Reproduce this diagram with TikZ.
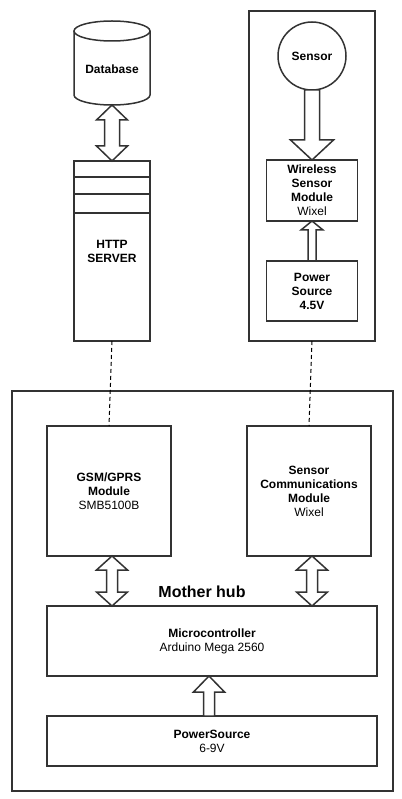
\documentclass[tikz,border=0pt]{standalone}
\usepackage{fontspec}
\setmainfont{Liberation Sans}
\usetikzlibrary{calc}
\definecolor{strokegray}{HTML}{333333}
\tikzset{
  box/.style={rectangle, draw=strokegray, line width=1.5pt, inner sep=0pt, outer sep=0pt, align=center, font=\fontsize{12}{14}\selectfont},
  blockarrow/.style={draw=strokegray, line width=1.5pt, fill=white, line join=miter},
  link/.style={draw=black, line width=1pt, dash pattern=on 4pt off 3pt}
}
\begin{document}
\begin{tikzpicture}[x=1pt,y=-1pt]
\useasboundingbox[fill=white] (0,0) rectangle (401,799);

%%%%%%%%%%%%%%%%%%%%%%%%%%%%%%%%%%%%%%%%%%% server side
\draw[strokegray, line width=1.5pt] (74,31) -- (74,95) arc[start angle=180, end angle=0, x radius=38, y radius=10] -- (150,31);
\draw[strokegray, line width=1.5pt] (112,31) ellipse[x radius=38, y radius=10];
\node[font=\bfseries\fontsize{12}{14}\selectfont] (db) at (112,69) {Database};
\coordinate (db-bottom) at (112,105);

\node[box, minimum width=76, minimum height=180] (http) at (112,251) {\textbf{HTTP}\\\textbf{SERVER}};
\foreach \yy in {16,33,52}
  \draw[strokegray, line width=1.5pt] ($(http.north west)+(0,\yy)$) -- ($(http.north east)+(0,\yy)$);

\draw[blockarrow] (db-bottom) -- ++(15.5,15) -- ++(-8,0) -- ++(0,26) -- ++(8,0) -- (http.north) -- ++(-15.5,-15) -- ++(8,0) -- ++(0,-26) -- ++(-8,0) -- cycle;

%%%%%%%%%%%%%%%%%%%%%%%%%%%%%%%%%%%%%%%%%%% sensor side
\node[box, minimum width=126, minimum height=330] (sensorpanel) at (312,176) {};
\node[box, circle, minimum size=68] (sensor) at (312,56) {\textbf{Sensor}};
\node[box, minimum width=91, minimum height=61] (wsm) at (312,190.5) {\textbf{Wireless}\\\textbf{Sensor}\\\textbf{Module}\\Wixel};
\node[box, minimum width=91, minimum height=60] (pws) at (312,291) {\textbf{Power}\\\textbf{Source}\\\textbf{4.5V}};

\draw[blockarrow] (sensor.south) ++(-7.5,0) -- ++(0,50) -- ++(-14,0) -- (wsm.north) -- ++(21.5,-20) -- ++(-14,0) -- ++(0,-50) -- cycle;
\draw[blockarrow] (pws.north) ++(-4,0) -- ++(0,-31) -- ++(-7,0) -- (wsm.south) -- ++(11,9) -- ++(-7,0) -- ++(0,31) -- cycle;

%%%%%%%%%%%%%%%%%%%%%%%%%%%%%%%%%%%%%%%%%%% mother hub
\node[box, minimum width=381, minimum height=400] (hub) at (202.5,591) {};
\node[box, minimum width=124, minimum height=130] (gsm) at (109,491) {\textbf{GSM/GPRS}\\\textbf{Module}\\SMB5100B};
\node[box, minimum width=124, minimum height=130] (scm) at (309,491) {\textbf{Sensor}\\\textbf{Communications}\\\textbf{Module}\\Wixel};
\node[box, minimum width=330, minimum height=70] (mcu) at (212,641) {\textbf{Microcontroller}\\Arduino Mega 2560};
\node[box, minimum width=330, minimum height=50] (psu) at (212,741) {\textbf{PowerSource}\\6-9V};
\node[font=\bfseries\fontsize{16}{19}\selectfont] (hubname) at (202,592) {Mother hub};

\draw[blockarrow] (http.south |- gsm.south) -- ++(15.5,14) -- ++(-10,0) -- ++(0,22) -- ++(10,0) -- (http.south |- mcu.north) -- ++(-15.5,-14) -- ++(10,0) -- ++(0,-22) -- ++(-10,0) -- cycle;
\draw[blockarrow] (sensorpanel.south |- scm.south) -- ++(15.5,14) -- ++(-10,0) -- ++(0,22) -- ++(10,0) -- (sensorpanel.south |- mcu.north) -- ++(-15.5,-14) -- ++(10,0) -- ++(0,-22) -- ++(-10,0) -- cycle;
\draw[blockarrow] ($(psu.north)+(-3,0)$) ++(-5.5,0) -- ++(0,-24) -- ++(-10,0) -- ($(mcu.south)+(-3,0)$) -- ++(15.5,16) -- ++(-10,0) -- ++(0,24) -- cycle;

%%%%% links
\draw[link] (http.south) -- (gsm.north);
\draw[link] (sensorpanel.south) -- (scm.north);
\end{tikzpicture}
\end{document}
